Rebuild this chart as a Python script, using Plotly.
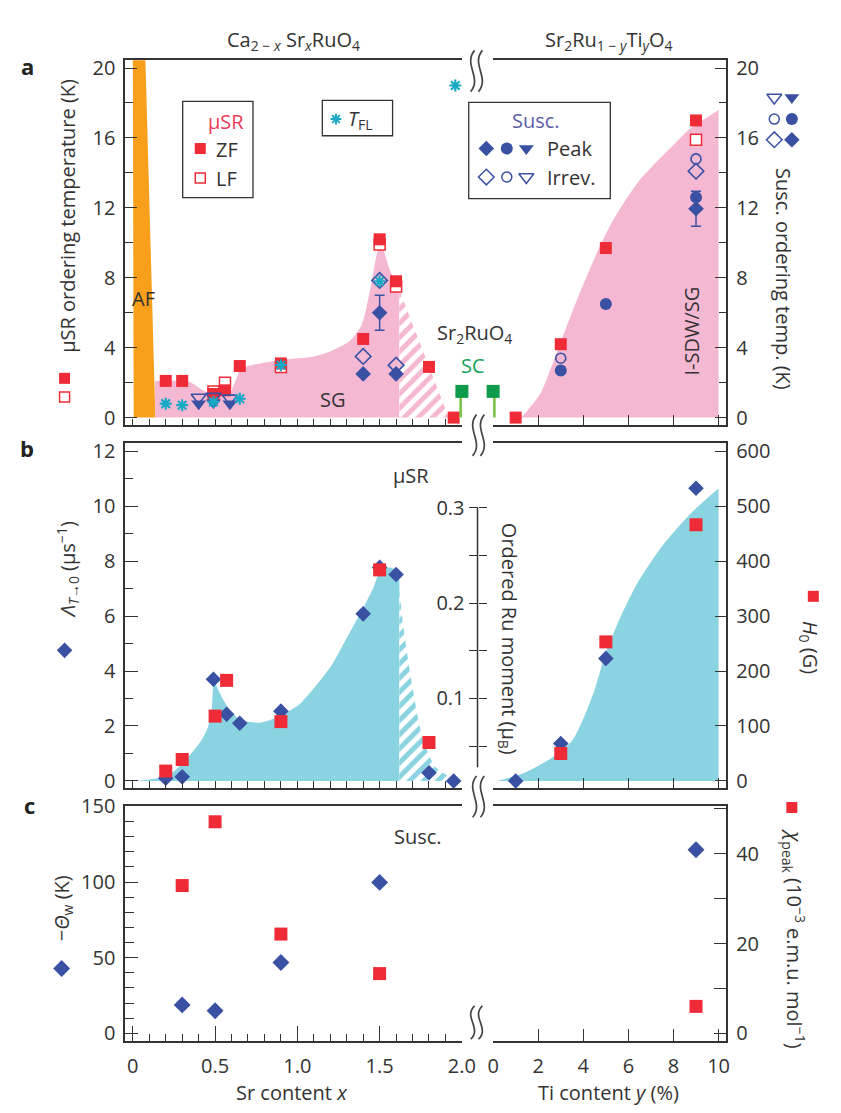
import plotly.graph_objects as go

# ---------------- data ----------------
# Panel a, Ca2-xSrxRuO4: ordering temperatures (K)
sr_zf_x = [0.2, 0.3, 0.49, 0.56, 0.65, 0.9, 1.4, 1.5, 1.6, 1.8, 1.95]
sr_zf_T = [2.1, 2.1, 1.35, 1.56, 2.95, 3.1, 4.5, 10.2, 7.8, 2.9, 0.0]
sr_lf_x = [0.49, 0.56, 0.9, 1.5, 1.6]
sr_lf_T = [1.5, 2.0, 2.9, 9.9, 7.5]
sr_tri_x = [0.4, 0.49, 0.59]
sr_tri_peak = [0.8, 0.85, 0.8]
sr_tri_irrev = [1.15, 1.2, 1.1]
sr_dia_x = [1.4, 1.5, 1.6]
sr_dia_peak = [2.5, 6.0, 2.5]
sr_dia_peak_err = [0.0, 1.0, 0.0]
sr_dia_irrev = [3.5, 7.85, 3.0]
tfl_x = [0.2, 0.3, 0.49, 0.65, 0.9, 1.5, 1.96]
tfl_T = [0.8, 0.71, 0.9, 1.08, 3.0, 7.8, 19.0]

# phase regions (panel a)
af_x = [0.0, 0.075, 0.137, 0.005]
af_T = [21.0, 21.0, 0.0, 0.0]
sg_x = [0.135, 0.34, 0.42, 0.47, 0.58, 0.62, 0.66, 0.72, 0.9, 1.1, 1.2, 1.32, 1.39, 1.44, 1.49, 1.51, 1.56, 1.62]
sg_T = [2.1, 2.05, 1.6, 1.4, 1.35, 2.0, 2.85, 3.0, 3.3, 3.5, 3.8, 4.4, 5.3, 7.2, 9.6, 9.9, 8.5, 7.3]
sg_hatch_x = [1.62, 1.92]
sg_hatch_T = [7.3, 0.0]

# Panel a, Sr2Ru1-yTiyO4
ti_zf_y = [1, 3, 5, 9]
ti_zf_T = [0.0, 4.2, 9.7, 17.0]
ti_lf_y = [9]
ti_lf_T = [15.9]
ti_circ_y = [3, 5, 9]
ti_circ_peak = [2.7, 6.5, 12.6]
ti_circ_irr_y = [3, 9]
ti_circ_irrev = [3.4, 14.8]
ti_dia_y = [9]
ti_dia_peak = [11.95]
ti_dia_peak_err = [1.0]
ti_dia_irrev = [14.1]
sdw_y = [1.25, 2.1, 2.9, 3.8, 4.7, 5.2, 5.8, 6.5, 7.3, 8.0, 8.7, 9.4, 10.0]
sdw_T = [0.0, 1.4, 4.0, 7.0, 9.7, 11.0, 12.3, 13.6, 14.7, 15.6, 16.5, 17.1, 17.6]

# Sr2RuO4 superconducting Tc
sc_x_left = [2.0]
sc_y_right = [0.0]
sc_Tc = [1.5]

# Panel b: relaxation rate (us^-1) and internal field H0 (G)
lam_x = [0.2, 0.3, 0.49, 0.57, 0.65, 0.9, 1.4, 1.5, 1.6, 1.8, 1.95]
lam = [0.1, 0.15, 3.7, 2.43, 2.1, 2.54, 6.08, 7.77, 7.51, 0.3, 0.0]
h0_x = [0.2, 0.3, 0.5, 0.57, 0.9, 1.5, 1.8]
h0 = [18, 39, 118, 183, 108, 384, 70]
lam_fill_x = [0.019, 0.217, 0.336, 0.415, 0.455, 0.48, 0.494, 0.534, 0.594, 0.653, 0.771, 0.87,
              1.009, 1.207, 1.306, 1.405, 1.464, 1.504, 1.563, 1.62]
lam_fill = [0.0, 0.21, 0.87, 1.46, 1.94, 2.65, 3.6, 3.13, 2.54, 2.24, 2.12, 2.3,
            2.77, 4.2, 5.27, 6.35, 7.06, 7.65, 7.77, 7.6]
lam_hatch_x = [1.62, 1.64, 1.70, 1.76, 1.84, 1.975]
lam_hatch = [7.0, 5.8, 3.4, 1.6, 0.5, 0.0]

ti_lam_y = [1, 3, 5, 9]
ti_lam = [0.0, 1.36, 4.46, 10.65]
ti_h0_y = [3, 5, 9]
ti_h0 = [50, 253, 466]
h0_fill_y = [0.17, 1.34, 2.64, 3.5, 4.08, 4.52, 4.95, 5.53, 6.39, 7.55, 8.7, 9.57, 10.0]
h0_fill = [0, 14, 43, 73, 121, 168, 228, 287, 359, 430, 484, 517, 532]

# Panel c: susceptibility
theta_x = [0.3, 0.5, 0.9, 1.5]
theta = [18.8, 14.9, 46.8, 99.8]
chi_x = [0.3, 0.5, 0.9, 1.5]
chi = [32.9, 47.1, 22.1, 13.3]
ti_theta_y = [9]
ti_theta = [121.4]
ti_chi_y = [9]
ti_chi = [6.0]

# ---------------- style ----------------
W, H = 841, 1113
FONT = "Open Sans"
INK = "#333333"
RED = "#EE2B36"
BLUE = "#3A51A3"
CYAN = "#17A9C6"
PINK = "#F5B8D3"
AQUA = "#8AD3E1"
ORANGE = "#F8A01C"
GREEN = "#0E9B4B"
LGREEN = "#79C143"
MURED = "#EE3A5A"
SUSC = "#5B5EA6"


def PX(x):
    return x / W


def PY(y):
    return 1 - y / H


XL = [PX(122), PX(467)]
XR = [PX(499), PX(738)]
YA = [PY(419), PY(47)]
YB = [PY(788), PY(437)]
YC = [PY(1046), PY(807)]

RA = [-0.45, 20.45]
RB = [-0.25, 12.29]
RB_H = [-12.5, 614.5]
RC = [-5.2, 150]
RC_R = [-1.75, 50.5]

fig = go.Figure()


def area(x, y, xa, ya, color, fill="tozeroy", shape="spline", pattern=None):
    kw = dict(x=x, y=y, xaxis=xa, yaxis=ya, mode="lines", fill=fill,
              line=dict(width=0, color=color, shape=shape, smoothing=0.7),
              fillcolor=color, hoverinfo="skip", showlegend=False)
    if pattern:
        kw["fillpattern"] = dict(shape="/", fgcolor=color, bgcolor="white", fgopacity=1,
                                 size=10, solidity=0.5)
        kw["fillcolor"] = None
    fig.add_trace(go.Scatter(**kw))


def pts(x, y, xa, ya, symbol, color, size, face=None, lw=0, err=None):
    marker = dict(symbol=symbol, size=size, color=face if face else color,
                  line=dict(width=lw, color=color))
    kw = dict(x=x, y=y, xaxis=xa, yaxis=ya, mode="markers", marker=marker,
              cliponaxis=False, hoverinfo="skip", showlegend=False)
    if err is not None:
        kw["error_y"] = err
    fig.add_trace(go.Scatter(**kw))


# ---- panel a, left ----
area(af_x, af_T, "x", "y", ORANGE, fill="toself", shape="linear")
area(sg_x, sg_T, "x", "y", PINK)
area(sg_hatch_x, sg_hatch_T, "x", "y", PINK, shape="linear", pattern=True)
# ---- panel a, right ----
area(sdw_y, sdw_T, "x2", "y2", PINK)

# muSR (LF underneath ZF)
pts(sr_lf_x, sr_lf_T, "x", "y", "square", RED, 11, face="white", lw=1.5)
pts(ti_lf_y, ti_lf_T, "x2", "y2", "square", RED, 11, face="white", lw=1.5)
pts(sr_zf_x, sr_zf_T, "x", "y", "square", RED, 12)
pts(ti_zf_y, ti_zf_T, "x2", "y2", "square", RED, 12)

# susceptibility
pts(sr_tri_x, sr_tri_irrev, "x", "y", "triangle-down-open", BLUE, 13, lw=1.6)
pts(sr_tri_x, sr_tri_peak, "x", "y", "triangle-down", BLUE, 13)
pts(sr_dia_x, sr_dia_irrev, "x", "y", "diamond-open", BLUE, 12, lw=1.6)
pts(sr_dia_x, sr_dia_peak, "x", "y", "diamond", BLUE, 12,
    err=dict(type="data", array=sr_dia_peak_err, color=BLUE, thickness=1.5, width=5))
pts(ti_circ_irr_y, ti_circ_irrev, "x2", "y2", "circle-open", BLUE, 10, lw=1.6)
pts(ti_dia_y, ti_dia_irrev, "x2", "y2", "diamond-open", BLUE, 12, lw=1.6)
pts(ti_dia_y, ti_dia_peak, "x2", "y2", "diamond", BLUE, 12,
    err=dict(type="data", array=ti_dia_peak_err, color=BLUE, thickness=1.5, width=5))
pts(ti_circ_y, ti_circ_peak, "x2", "y2", "circle", BLUE, 12)

# T_FL
pts(tfl_x, tfl_T, "x", "y", "asterisk-open", CYAN, 10, lw=2.2)

# Sr2RuO4 Tc with drop lines to zero
sc_err = dict(type="data", symmetric=False, array=[0], arrayminus=sc_Tc,
              color=LGREEN, thickness=5, width=0)
pts(sc_x_left, sc_Tc, "x", "y", "square", GREEN, 13, err=sc_err)
pts(sc_y_right, sc_Tc, "x2", "y2", "square", GREEN, 13, err=sc_err)

# ---- panel b ----
area(lam_fill_x, lam_fill, "x3", "y3", AQUA)
area(lam_hatch_x, lam_hatch, "x3", "y3", AQUA, pattern=True)
pts(lam_x, lam, "x3", "y3", "diamond", BLUE, 12)
pts(h0_x, h0, "x3", "y7", "square", RED, 13)

area(h0_fill_y, h0_fill, "x4", "y4", AQUA)
pts(ti_lam_y, ti_lam, "x4", "y8", "diamond", BLUE, 12)
pts(ti_h0_y, ti_h0, "x4", "y13", "square", RED, 13)

# ordered-moment scale (axis only)
for ya in ("y9", "y10"):
    fig.add_trace(go.Scatter(x=[None], y=[None], xaxis="x3", yaxis=ya,
                             mode="markers", showlegend=False, hoverinfo="skip"))

# ---- panel c ----
pts(theta_x, theta, "x5", "y5", "diamond", BLUE, 13)
pts(chi_x, chi, "x5", "y11", "square", RED, 13)
pts(ti_theta_y, ti_theta, "x6", "y12", "diamond", BLUE, 13)
pts(ti_chi_y, ti_chi, "x6", "y6", "square", RED, 13)

# ---- key glyphs (legend boxes and axis-title symbols), placed in page pixels ----
key_glyphs = [
    (199, 137, "square", RED, None, 11), (199, 167, "square", RED, "white", 10),
    (338, 107, "asterisk-open", CYAN, None, 9),
    (492, 137, "diamond", BLUE, None, 12), (513, 137, "circle", BLUE, None, 12),
    (533, 137, "triangle-down", BLUE, None, 13),
    (492, 166, "diamond-open", BLUE, None, 12), (513, 166, "circle-open", BLUE, None, 10),
    (533, 166, "triangle-down-open", BLUE, None, 13),
    (787, 85, "triangle-down-open", BLUE, None, 13), (805, 85, "triangle-down", BLUE, None, 13),
    (787, 107, "circle-open", BLUE, None, 10), (805, 107, "circle", BLUE, None, 12),
    (787, 128, "diamond-open", BLUE, None, 12), (805, 128, "diamond", BLUE, None, 12),
    (60, 371, "square", RED, None, 11), (60, 390, "square", RED, "white", 10),
    (60, 648, "diamond", BLUE, None, 12),
    (827, 593, "square", RED, None, 11),
    (57, 972, "diamond", BLUE, None, 13),
    (805, 808, "square", RED, None, 11),
]
for gx, gy, sym, col, face, sz in key_glyphs:
    is_open = sym.endswith("-open") or face is not None
    pts([gx], [gy], "x7", "y14", sym, col, sz, face=face,
        lw=(2 if sym.startswith("asterisk") else 1.5) if is_open else 0)

# ---------------- axes ----------------
tickfont = dict(family=FONT, size=20, color=INK)
base = dict(showgrid=False, zeroline=False, showline=True, linecolor=INK, linewidth=1.5,
            ticks="inside", tickcolor=INK, tickwidth=1.4, tickfont=tickfont)


def minor(d, ln):
    return dict(dtick=d, tick0=0, ticks="inside", ticklen=ln, tickcolor=INK, tickwidth=1.4)


lay = dict(
    xaxis=dict(base, domain=XL, range=[-0.047, 2.0], anchor="y", mirror=True,
               dtick=0.1, tick0=0, ticklen=7, showticklabels=False),
    xaxis2=dict(base, domain=XR, range=[0, 10.35], anchor="y2", mirror=True,
                dtick=2, tick0=0, ticklen=11, showticklabels=False),
    xaxis3=dict(base, domain=XL, range=[-0.047, 2.0], anchor="y3", mirror=True,
                dtick=0.1, tick0=0, ticklen=7, showticklabels=False),
    xaxis4=dict(base, domain=XR, range=[0, 10.35], anchor="y4", mirror=True,
                dtick=2, tick0=0, ticklen=10, showticklabels=False),
    xaxis5=dict(base, domain=XL, range=[-0.047, 2.0], anchor="y5", mirror=True,
                tickmode="array", tickvals=[0, 0.5, 1.0, 1.5, 2.0],
                ticktext=["0", "0.5", "1.0", "1.5", "2.0"], ticklen=15,
                minor=minor(0.1, 7), ticklabelstandoff=6),
    xaxis6=dict(base, domain=XR, range=[0, 10.35], anchor="y6", mirror=True,
                dtick=2, tick0=0, ticklen=12, ticklabelstandoff=6),
    xaxis7=dict(domain=[0, 1], range=[0, W], anchor="y14", visible=False),

    yaxis=dict(base, domain=YA, range=RA, anchor="x", dtick=4, tick0=0, ticklen=12,
               minor=minor(2, 8), ticklabelstandoff=4),
    yaxis2=dict(base, domain=YA, range=RA, anchor="x2", side="right", dtick=4, tick0=0,
                ticklen=12, minor=minor(2, 8), ticklabelstandoff=4),
    yaxis3=dict(base, domain=YB, range=RB, anchor="x3", dtick=2, tick0=0, ticklen=13,
                minor=minor(1, 8), ticklabelstandoff=4),
    yaxis4=dict(base, domain=YB, range=RB_H, anchor="x4", side="right", dtick=100, tick0=0,
                ticklen=12, ticklabelstandoff=4),
    yaxis5=dict(base, domain=YC, range=RC, anchor="x5", dtick=50, tick0=0, ticklen=13,
                minor=minor(10, 9), ticklabelstandoff=4),
    yaxis6=dict(base, domain=YC, range=RC_R, anchor="x6", side="right", dtick=20, tick0=0,
                ticklen=13, minor=minor(10, 13), ticklabelstandoff=4),
    yaxis7=dict(overlaying="y3", anchor="x3", range=RB_H, visible=False),
    yaxis8=dict(overlaying="y4", anchor="x4", range=RB, visible=False),
    yaxis9=dict(overlaying="y3", anchor="free", position=PX(483), side="left",
                range=[0.0062, 0.368], showgrid=False, zeroline=False, showline=False,
                ticks="outside", ticklen=9, tickwidth=1.4, tickcolor=INK, tickfont=tickfont,
                tickmode="array", tickvals=[0.05, 0.1, 0.15, 0.2, 0.25, 0.3],
                ticktext=["", "0.1", "", "0.2", "", "0.3"]),
    yaxis10=dict(overlaying="y3", anchor="free", position=PX(483), side="left",
                 range=[0.0062, 0.368], showgrid=False, zeroline=False, showline=False,
                 ticks="inside", ticklen=8, tickwidth=1.4, tickcolor=INK, showticklabels=False,
                 tickmode="array", tickvals=[0.05, 0.1, 0.15, 0.2, 0.25, 0.3]),
    yaxis11=dict(overlaying="y5", anchor="x5", range=RC_R, visible=False),
    yaxis12=dict(overlaying="y6", anchor="x6", range=RC, visible=False),
    yaxis13=dict(overlaying="y4", anchor="x4", range=RB_H, visible=False),
    yaxis14=dict(domain=[0, 1], range=[H, 0], anchor="x7", visible=False),
)

# ---------------- text ----------------
ann = []


def note(x, y, text, size=20, color=INK, angle=0, xanchor="center"):
    ann.append(dict(x=PX(x), y=PY(y), xref="paper", yref="paper", text=text, showarrow=False,
                    textangle=angle, xanchor=xanchor, yanchor="middle",
                    font=dict(family=FONT, size=size, color=color)))


note(294, 27, "Ca<sub>2 − <i>x</i></sub> Sr<sub><i>x</i></sub>RuO<sub>4</sub>")
note(618, 27, "Sr<sub>2</sub>Ru<sub>1 − <i>y</i></sub>Ti<sub><i>y</i></sub>O<sub>4</sub>")
note(293, 1098, "Sr content <i>x</i>")
note(617, 1098, "Ti content <i>y</i> (%)")
note(22, 53, "<b>a</b>", size=22, color="#222")
note(22, 442, "<b>b</b>", size=22, color="#222")
note(24, 805, "<b>c</b>", size=22, color="#222")

note(63, 206, "μSR ordering temperature (K)", angle=-90)
note(797, 270, "Susc. ordering temp. (K)", angle=90)
note(63, 566, "<i>Λ</i><sub><i>T</i>→0</sub> (μs<sup>−1</sup>)", angle=-90)
note(515, 636, "Ordered Ru moment (μ<sub>B</sub>)", angle=90)
note(823, 645, "<i>H</i><sub>0</sub> (G)", angle=90)
note(58, 911, "−<i>Θ</i><sub>w</sub> (K)", angle=-90)
note(807, 941, "<i>χ</i><sub>peak</sub> (10<sup>−3</sup> e.m.u. mol<sup>−1</sup>)", angle=90)

note(141, 290, "AF")
note(335, 393, "SG")
note(480, 325, "Sr<sub>2</sub>RuO<sub>4</sub>")
note(478, 358, "SC", color="#16A35A")
note(702, 323, "I-SDW/SG", angle=-90)
note(415, 470, "μSR")
note(422, 838, "Susc.")

note(225, 109, "μSR", color=MURED)
note(213, 138, "ZF", xanchor="left")
note(213, 168, "LF", xanchor="left")
note(348, 107, "<i>T</i><sub>FL</sub>", xanchor="left")
note(543, 108, "Susc.", color=SUSC)
note(552, 137, "Peak", xanchor="left")
note(552, 166, "Irrev.", xanchor="left")

# ---------------- shapes ----------------
shapes = []


def box(x0, y0, x1, y1):
    shapes.append(dict(type="rect", xref="paper", yref="paper", x0=PX(x0), x1=PX(x1),
                       y0=PY(y1), y1=PY(y0), line=dict(color=INK, width=1.3)))


box(181, 89, 253, 187)
box(324, 88, 396, 124)
box(474, 90, 619, 188)

# axis line of the ordered-moment scale
shapes.append(dict(type="line", xref="paper", yref="paper", x0=PX(483), x1=PX(483),
                   y0=PY(767), y1=PY(503), line=dict(color=INK, width=1.5)))


def brk(cx, cy, h):
    for off in (-4, 4):
        x = cx + off
        p = (f"M {PX(x + 2)},{PY(cy - h)} "
             f"C {PX(x - 10)},{PY(cy - h / 3)} {PX(x + 10)},{PY(cy + h / 3)} {PX(x - 2)},{PY(cy + h)}")
        shapes.append(dict(type="path", xref="paper", yref="paper", path=p,
                           line=dict(color="#444", width=1.7)))


brk(482, 58, 21)
brk(484, 429, 21)
brk(484, 797, 21)
brk(482, 1027, 17)

fig.update_layout(
    width=W, height=H, autosize=False,
    margin=dict(l=0, r=0, t=0, b=0),
    paper_bgcolor="white", plot_bgcolor="rgba(0,0,0,0)",
    showlegend=False, annotations=ann, shapes=shapes,
    font=dict(family=FONT, color=INK),
    **lay,
)

fig.write_html("out.html")
